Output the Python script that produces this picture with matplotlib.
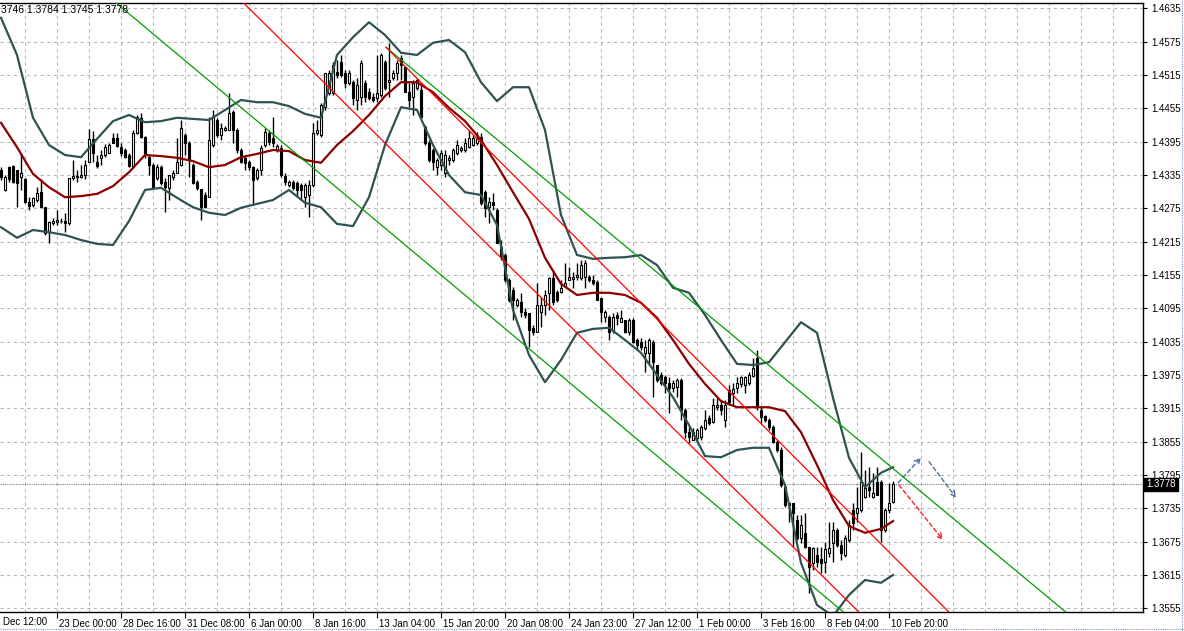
import numpy as np
import matplotlib.pyplot as plt
from matplotlib.lines import Line2D
from matplotlib.transforms import ScaledTranslation

# EURUSD, H4 -- свечи (по барам слева направо)
opens = [1.4344, 1.4308, 1.4349, 1.4351, 1.4344, 1.4331, 1.4328, 1.4286, 1.4281, 1.4290,
         1.4304, 1.4277, 1.4232, 1.4249, 1.4250, 1.4252, 1.4252, 1.4249, 1.4330, 1.4331,
         1.4331, 1.4335, 1.4358, 1.4400, 1.4358, 1.4366, 1.4371, 1.4375, 1.4402, 1.4402,
         1.4385, 1.4380, 1.4371, 1.4351, 1.4411, 1.4438, 1.4403, 1.4367, 1.4353, 1.4330,
         1.4349, 1.4322, 1.4312, 1.4331, 1.4339, 1.4353, 1.4407, 1.4393, 1.4353, 1.4322,
         1.4310, 1.4299, 1.4295, 1.4389, 1.4434, 1.4407, 1.4416, 1.4416, 1.4448, 1.4416,
         1.4380, 1.4366, 1.4358, 1.4349, 1.4330, 1.4344, 1.4389, 1.4411, 1.4402, 1.4380,
         1.4384, 1.4333, 1.4317, 1.4322, 1.4321, 1.4317, 1.4295, 1.4299, 1.4317, 1.4411,
         1.4407, 1.4457, 1.4483, 1.4483, 1.4520, 1.4538, 1.4519, 1.4501, 1.4502, 1.4470,
         1.4475, 1.4501, 1.4484, 1.4475, 1.4474, 1.4479, 1.4538, 1.4502, 1.4510, 1.4519,
         1.4546, 1.4529, 1.4484, 1.4475, 1.4492, 1.4488, 1.4421, 1.4393, 1.4380, 1.4349,
         1.4353, 1.4339, 1.4362, 1.4362, 1.4375, 1.4380, 1.4380, 1.4385, 1.4389, 1.4393,
         1.4403, 1.4304, 1.4277, 1.4286, 1.4272, 1.4205, 1.4191, 1.4146, 1.4128, 1.4101,
         1.4106, 1.4088, 1.4086, 1.4060, 1.4052, 1.4088, 1.4101, 1.4123, 1.4150, 1.4124,
         1.4124, 1.4135, 1.4146, 1.4148, 1.4151, 1.4150, 1.4151, 1.4151, 1.4146, 1.4142,
         1.4114, 1.4079, 1.4079, 1.4056, 1.4083, 1.4070, 1.4074, 1.4052, 1.4074, 1.4038,
         1.4034, 1.4015, 1.4015, 1.4034, 1.3993, 1.3975, 1.3971, 1.3961, 1.3952, 1.3953,
         1.3966, 1.3912, 1.3873, 1.3858, 1.3862, 1.3863, 1.3880, 1.3898, 1.3890, 1.3917,
         1.3921, 1.3894, 1.3948, 1.3943, 1.3952, 1.3959, 1.3957, 1.3961, 1.3973, 1.4006,
         1.3912, 1.3901, 1.3894, 1.3881, 1.3854, 1.3840, 1.3773, 1.3745, 1.3745, 1.3714,
         1.3682, 1.3691, 1.3665, 1.3637, 1.3651, 1.3644, 1.3638, 1.3655, 1.3673, 1.3696,
         1.3669, 1.3651, 1.3678, 1.3732, 1.3727, 1.3732, 1.3755, 1.3773, 1.3755, 1.3782,
         1.3782, 1.3696, 1.3732, 1.3746]
highs = [1.4349, 1.4335, 1.4351, 1.4353, 1.4344, 1.4375, 1.4330, 1.4295, 1.4295, 1.4313,
         1.4328, 1.4277, 1.4252, 1.4258, 1.4272, 1.4258, 1.4267, 1.4330, 1.4362, 1.4344,
         1.4353, 1.4362, 1.4418, 1.4414, 1.4371, 1.4380, 1.4391, 1.4393, 1.4411, 1.4411,
         1.4393, 1.4384, 1.4375, 1.4416, 1.4443, 1.4447, 1.4405, 1.4371, 1.4357, 1.4355,
         1.4353, 1.4330, 1.4335, 1.4344, 1.4402, 1.4434, 1.4411, 1.4396, 1.4357, 1.4326,
         1.4310, 1.4304, 1.4439, 1.4452, 1.4438, 1.4429, 1.4423, 1.4483, 1.4452, 1.4420,
         1.4384, 1.4371, 1.4362, 1.4351, 1.4348, 1.4389, 1.4420, 1.4416, 1.4439, 1.4391,
         1.4389, 1.4339, 1.4326, 1.4326, 1.4324, 1.4321, 1.4321, 1.4326, 1.4429, 1.4434,
         1.4465, 1.4519, 1.4524, 1.4538, 1.4542, 1.4551, 1.4524, 1.4524, 1.4506, 1.4510,
         1.4542, 1.4506, 1.4492, 1.4483, 1.4551, 1.4555, 1.4542, 1.4573, 1.4524, 1.4542,
         1.4551, 1.4529, 1.4501, 1.4506, 1.4510, 1.4497, 1.4425, 1.4398, 1.4384, 1.4366,
         1.4380, 1.4380, 1.4371, 1.4384, 1.4398, 1.4387, 1.4402, 1.4416, 1.4407, 1.4412,
         1.4411, 1.4308, 1.4295, 1.4303, 1.4275, 1.4218, 1.4194, 1.4150, 1.4133, 1.4114,
         1.4123, 1.4095, 1.4086, 1.4065, 1.4141, 1.4115, 1.4128, 1.4151, 1.4164, 1.4128,
         1.4146, 1.4177, 1.4169, 1.4160, 1.4177, 1.4182, 1.4182, 1.4155, 1.4155, 1.4146,
         1.4114, 1.4092, 1.4083, 1.4086, 1.4088, 1.4092, 1.4074, 1.4077, 1.4077, 1.4042,
         1.4042, 1.4038, 1.4042, 1.4038, 1.3993, 1.3980, 1.3975, 1.3971, 1.3966, 1.3970,
         1.3970, 1.3916, 1.3881, 1.3880, 1.3880, 1.3885, 1.3912, 1.3903, 1.3934, 1.3934,
         1.3930, 1.3930, 1.3957, 1.3961, 1.3971, 1.3973, 1.3973, 1.3980, 1.4006, 1.4020,
         1.3917, 1.3903, 1.3898, 1.3885, 1.3858, 1.3845, 1.3777, 1.3746, 1.3745, 1.3723,
         1.3723, 1.3727, 1.3665, 1.3665, 1.3665, 1.3665, 1.3674, 1.3710, 1.3710, 1.3700,
         1.3678, 1.3687, 1.3714, 1.3745, 1.3773, 1.3836, 1.3804, 1.3809, 1.3799, 1.3809,
         1.3786, 1.3736, 1.3781, 1.3784]
lows = [1.4326, 1.4306, 1.4322, 1.4321, 1.4277, 1.4308, 1.4285, 1.4272, 1.4277, 1.4286,
        1.4277, 1.4227, 1.4213, 1.4245, 1.4245, 1.4249, 1.4232, 1.4245, 1.4326, 1.4322,
        1.4330, 1.4328, 1.4358, 1.4358, 1.4348, 1.4353, 1.4367, 1.4375, 1.4393, 1.4385,
        1.4369, 1.4366, 1.4349, 1.4348, 1.4409, 1.4402, 1.4366, 1.4335, 1.4312, 1.4326,
        1.4317, 1.4268, 1.4290, 1.4326, 1.4339, 1.4351, 1.4371, 1.4331, 1.4319, 1.4308,
        1.4254, 1.4275, 1.4295, 1.4385, 1.4403, 1.4398, 1.4414, 1.4416, 1.4393, 1.4375,
        1.4357, 1.4344, 1.4344, 1.4281, 1.4326, 1.4335, 1.4385, 1.4389, 1.4385, 1.4377,
        1.4331, 1.4317, 1.4313, 1.4308, 1.4297, 1.4290, 1.4277, 1.4259, 1.4313, 1.4407,
        1.4403, 1.4452, 1.4479, 1.4479, 1.4510, 1.4511, 1.4492, 1.4497, 1.4461, 1.4452,
        1.4461, 1.4466, 1.4470, 1.4466, 1.4466, 1.4475, 1.4488, 1.4475, 1.4506, 1.4506,
        1.4506, 1.4484, 1.4457, 1.4443, 1.4488, 1.4439, 1.4389, 1.4358, 1.4344, 1.4335,
        1.4344, 1.4331, 1.4353, 1.4358, 1.4371, 1.4377, 1.4377, 1.4384, 1.4387, 1.4389,
        1.4281, 1.4259, 1.4249, 1.4272, 1.4213, 1.4182, 1.4142, 1.4106, 1.4074, 1.4097,
        1.4079, 1.4077, 1.4025, 1.4047, 1.4052, 1.4061, 1.4083, 1.4092, 1.4101, 1.4106,
        1.4123, 1.4133, 1.4146, 1.4132, 1.4146, 1.4146, 1.4132, 1.4142, 1.4137, 1.4110,
        1.4070, 1.4070, 1.4038, 1.4051, 1.4065, 1.4070, 1.4051, 1.4047, 1.4032, 1.4020,
        1.4020, 1.3980, 1.3997, 1.3935, 1.3962, 1.3957, 1.3943, 1.3907, 1.3944, 1.3935,
        1.3894, 1.3862, 1.3853, 1.3858, 1.3858, 1.3858, 1.3876, 1.3885, 1.3889, 1.3912,
        1.3903, 1.3881, 1.3921, 1.3921, 1.3943, 1.3953, 1.3943, 1.3957, 1.3971, 1.3912,
        1.3889, 1.3890, 1.3876, 1.3853, 1.3836, 1.3773, 1.3737, 1.3710, 1.3665, 1.3678,
        1.3673, 1.3664, 1.3583, 1.3624, 1.3629, 1.3619, 1.3619, 1.3647, 1.3638, 1.3665,
        1.3642, 1.3647, 1.3674, 1.3696, 1.3710, 1.3728, 1.3754, 1.3755, 1.3754, 1.3759,
        1.3674, 1.3692, 1.3727, 1.3745]
closes = [1.4331, 1.4331, 1.4328, 1.4322, 1.4321, 1.4339, 1.4286, 1.4279, 1.4294, 1.4303,
          1.4277, 1.4231, 1.4250, 1.4252, 1.4254, 1.4253, 1.4249, 1.4330, 1.4333, 1.4333,
          1.4335, 1.4353, 1.4400, 1.4375, 1.4351, 1.4371, 1.4385, 1.4389, 1.4393, 1.4387,
          1.4375, 1.4367, 1.4351, 1.4411, 1.4439, 1.4403, 1.4371, 1.4353, 1.4313, 1.4349,
          1.4321, 1.4313, 1.4335, 1.4339, 1.4358, 1.4420, 1.4393, 1.4362, 1.4321, 1.4312,
          1.4277, 1.4277, 1.4398, 1.4439, 1.4407, 1.4420, 1.4420, 1.4447, 1.4416, 1.4380,
          1.4358, 1.4357, 1.4349, 1.4326, 1.4344, 1.4384, 1.4413, 1.4394, 1.4393, 1.4387,
          1.4335, 1.4322, 1.4322, 1.4312, 1.4308, 1.4308, 1.4317, 1.4317, 1.4411, 1.4416,
          1.4461, 1.4519, 1.4519, 1.4533, 1.4515, 1.4515, 1.4501, 1.4519, 1.4474, 1.4497,
          1.4537, 1.4475, 1.4474, 1.4470, 1.4483, 1.4551, 1.4492, 1.4506, 1.4519, 1.4537,
          1.4533, 1.4484, 1.4470, 1.4501, 1.4506, 1.4439, 1.4393, 1.4362, 1.4358, 1.4362,
          1.4375, 1.4371, 1.4366, 1.4380, 1.4389, 1.4384, 1.4393, 1.4402, 1.4402, 1.4402,
          1.4285, 1.4275, 1.4286, 1.4281, 1.4213, 1.4187, 1.4146, 1.4110, 1.4110, 1.4110,
          1.4088, 1.4083, 1.4056, 1.4052, 1.4101, 1.4101, 1.4119, 1.4150, 1.4106, 1.4110,
          1.4132, 1.4141, 1.4151, 1.4151, 1.4155, 1.4173, 1.4177, 1.4146, 1.4141, 1.4110,
          1.4088, 1.4088, 1.4052, 1.4079, 1.4077, 1.4077, 1.4052, 1.4074, 1.4034, 1.4029,
          1.4025, 1.4025, 1.4038, 1.3998, 1.3966, 1.3961, 1.3961, 1.3952, 1.3961, 1.3966,
          1.3912, 1.3873, 1.3863, 1.3873, 1.3876, 1.3881, 1.3894, 1.3889, 1.3921, 1.3921,
          1.3912, 1.3921, 1.3926, 1.3950, 1.3961, 1.3971, 1.3971, 1.3975, 1.3988, 1.3917,
          1.3899, 1.3894, 1.3881, 1.3854, 1.3840, 1.3777, 1.3741, 1.3741, 1.3727, 1.3682,
          1.3705, 1.3665, 1.3629, 1.3664, 1.3638, 1.3637, 1.3662, 1.3664, 1.3696, 1.3669,
          1.3655, 1.3682, 1.3705, 1.3709, 1.3736, 1.3782, 1.3772, 1.3768, 1.3763, 1.3759,
          1.3696, 1.3732, 1.3745, 1.3778]

# Bollinger Bands и средняя линия, значения сняты через каждые 4 бара
band_bars = [0, 4, 8, 12, 16, 20, 24, 28, 32, 36, 40, 44, 48, 52, 56, 60, 64, 68, 72, 76,
             80, 84, 88, 92, 96, 100, 104, 108, 112, 116, 120, 124, 128, 132, 136, 140, 144,
             148, 152, 156, 160, 164, 168, 172, 176, 180, 184, 188, 192, 196, 200, 204, 208,
             212, 216, 220, 223]
bb_upper = [1.4618, 1.4551, 1.4438, 1.4389, 1.4371, 1.4367, 1.4400, 1.4432, 1.4443, 1.4430,
            1.4432, 1.4438, 1.4436, 1.4434, 1.4452, 1.4470, 1.4466, 1.4466, 1.4459, 1.4445,
            1.4438, 1.4551, 1.4583, 1.4610, 1.4587, 1.4555, 1.4551, 1.4573, 1.4578, 1.4556,
            1.4502, 1.4468, 1.4493, 1.4493, 1.4416, 1.4263, 1.4191, 1.4184, 1.4186, 1.4187,
            1.4191, 1.4173, 1.4132, 1.4123, 1.4083, 1.4038, 1.3995, 1.3993, 1.3998, 1.4034,
            1.4070, 1.4051, 1.3934, 1.3826, 1.3773, 1.3799, 1.3809]
bb_middle = [1.4429, 1.4385, 1.4337, 1.4313, 1.4295, 1.4297, 1.4301, 1.4315, 1.4340, 1.4371,
             1.4369, 1.4366, 1.4360, 1.4349, 1.4353, 1.4367, 1.4373, 1.4380, 1.4378, 1.4362,
             1.4357, 1.4389, 1.4414, 1.4443, 1.4477, 1.4502, 1.4502, 1.4484, 1.4456, 1.4432,
             1.4398, 1.4353, 1.4304, 1.4256, 1.4186, 1.4139, 1.4119, 1.4123, 1.4123, 1.4119,
             1.4105, 1.4078, 1.4038, 1.3995, 1.3959, 1.3928, 1.3917, 1.3917, 1.3917, 1.3910,
             1.3872, 1.3813, 1.3750, 1.3703, 1.3691, 1.3698, 1.3712]
bb_lower = [1.4241, 1.4222, 1.4236, 1.4232, 1.4227, 1.4218, 1.4211, 1.4209, 1.4252, 1.4308,
            1.4312, 1.4294, 1.4277, 1.4267, 1.4263, 1.4276, 1.4283, 1.4290, 1.4308, 1.4285,
            1.4277, 1.4247, 1.4243, 1.4295, 1.4389, 1.4457, 1.4452, 1.4389, 1.4335, 1.4304,
            1.4299, 1.4245, 1.4092, 1.4011, 1.3962, 1.4002, 1.4051, 1.4058, 1.4060, 1.4038,
            1.4015, 1.3975, 1.3935, 1.3885, 1.3829, 1.3827, 1.3840, 1.3844, 1.3844, 1.3777,
            1.3637, 1.3561, 1.3541, 1.3579, 1.3606, 1.3601, 1.3615]

# трендовые линии: (бар, цена) двух точек, цвет, продлевать ли влево
trend_lines = [
    ((96.25, 1.4565), (266.25, 1.3548), '#00a000', False),
    ((28.75, 1.4645), (210.0, 1.3552), '#00a000', True),
    ((96.25, 1.4565), (237.0, 1.3548), '#ff0000', False),
    ((70.0, 1.4578), (195.0, 1.3687), '#ff0000', True),
]
# стрелки прогноза: (бар, цена) -> (бар, цена), цвет
arrows = [
    ((224.3, 1.3781), (230.0, 1.3826), '#4f6f9f'),
    ((232.0, 1.3819), (238.8, 1.3754), '#4f6f9f'),
    ((224.5, 1.3777), (235.5, 1.3678), '#ff2020'),
]

price_ticks = [1.3555, 1.3615, 1.3675, 1.3735, 1.3795, 1.3855, 1.3915, 1.3975, 1.4035,
               1.4095, 1.4155, 1.4215, 1.4275, 1.4335, 1.4395, 1.4455, 1.4515, 1.4575, 1.4635]
time_bars = [-2, 14, 30, 46, 62, 78, 94, 110, 126, 142, 158, 174, 190, 206, 222]
time_labels = ['Dec 12:00', '23 Dec 00:00', '28 Dec 16:00', '31 Dec 08:00', '6 Jan 00:00',
               '8 Jan 16:00', '13 Jan 04:00', '15 Jan 20:00', '20 Jan 08:00', '24 Jan 23:00',
               '27 Jan 12:00', '1 Feb 00:00', '3 Feb 16:00', '8 Feb 04:00', '10 Feb 20:00']

plt.rcParams['font.family'] = ['Liberation Sans', 'DejaVu Sans']
W, H = 1184, 631
Y0, Y1 = 1.35484, 1.46446
fig = plt.figure(figsize=(W / 100, H / 100), dpi=100)
ax = fig.add_axes([0, 19 / H, 1143 / W, 609 / H])
ax.set_xlim(-0.25, 285.5)
ax.set_ylim(Y0, Y1)

o = np.array(opens); h = np.array(highs); l = np.array(lows); c = np.array(closes)
x = np.arange(len(c))

# сетка
for gx in range(6, 286, 8):
    ax.axvline(gx, color='#b8b8b8', lw=0.8, ls=(0, (3, 3)), zorder=0)
for p in price_ticks:
    ax.axhline(p, color='#b8b8b8', lw=0.8, ls=(0, (3, 3)), zorder=0)

# свечи
ax.vlines(x, l, h, color='black', lw=1, zorder=2)
up = c >= o
body_lo = np.minimum(o, c)
body_h = np.maximum(np.abs(c - o), 0.00004)
ax.bar(x[up], body_h[up], bottom=body_lo[up], width=0.55, color='white',
       edgecolor='black', linewidth=0.8, zorder=3)
ax.bar(x[~up], body_h[~up], bottom=body_lo[~up], width=0.55, color='black',
       edgecolor='black', linewidth=0.8, zorder=3)

# индикаторы
ax.plot(band_bars, bb_upper, color='#2f5353', lw=1.6, zorder=4)
ax.plot(band_bars, bb_lower, color='#2f5353', lw=1.6, zorder=4)
ax.plot(band_bars, bb_middle, color='#8b0000', lw=1.6, zorder=4)

for p1, p2, col, back in trend_lines:
    slope = (p2[1] - p1[1]) / (p2[0] - p1[0])
    xs = -5 if back else p1[0]
    xe = 300
    ax.plot([xs, xe], [p1[1] + slope * (xs - p1[0]), p1[1] + slope * (xe - p1[0])],
            color=col, lw=0.9, zorder=5)

for p1, p2, col in arrows:
    ax.annotate('', xy=p2, xytext=p1,
                arrowprops=dict(arrowstyle='->', color=col, lw=1.0, ls=(0, (3, 2)),
                                shrinkA=0, shrinkB=0, mutation_scale=10), zorder=6)

# линия текущей цены
last = closes[-1]
ax.axhline(last, color='#808080', lw=0.8, ls=(0, (1, 1)), zorder=1)

# оформление осей
ax.spines['left'].set_visible(False)
for s in ['top', 'right', 'bottom']:
    ax.spines[s].set_linewidth(1.0)
ax.yaxis.tick_right()
ax.set_yticks(price_ticks)
ax.set_yticklabels([f'{p:.4f}' for p in price_ticks], fontsize=7)
ax.tick_params(axis='y', direction='out', length=3, pad=3, width=0.8)
ax.set_xticks(time_bars[1:])
ax.set_xticklabels(time_labels[1:], fontsize=7, ha='left')
ax.tick_params(axis='x', direction='out', length=4, pad=1, width=0.8)
off = ScaledTranslation(2 / 100, 0, fig.dpi_scale_trans)
for lab in ax.get_xticklabels():
    lab.set_transform(lab.get_transform() + off)
# первая подпись срезана краем окна, видна только её часть
fig.text(3 / W, 19 / H - 0.008, time_labels[0], fontsize=7, ha='left', va='top')

# метка последней цены
ax.text(1.003, (last - Y0) / (Y1 - Y0), f'{last:.4f}', transform=ax.transAxes,
        fontsize=7, color='white', va='center', ha='left', clip_on=False,
        bbox=dict(boxstyle='square,pad=0.2', fc='black', ec='black'))

# строка OHLC сверху (начало срезано краем окна)
ohlc = f'{opens[-1]:.4f} {highs[-1]:.4f} {lows[-1]:.4f} {closes[-1]:.4f}'
fig.text(1 / W, 1 - 10 / H, ohlc[2:], fontsize=7.5, va='center', ha='left')

# рамка окна терминала
fig.add_artist(Line2D([0, 1], [2 / H, 2 / H], color='#7d96c8', lw=0.8, ls=(0, (1, 1))))
fig.add_artist(Line2D([1 - 2 / W, 1 - 2 / W], [0, 1], color='#7d96c8', lw=0.8, ls=(0, (1, 1))))

fig.savefig('out.png', dpi=100, facecolor='white')
